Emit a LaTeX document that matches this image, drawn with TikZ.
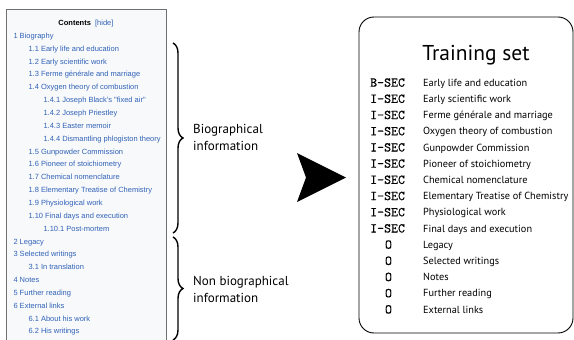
\documentclass[tikz,border=0pt]{standalone}
\usepackage{fontspec}
\usetikzlibrary{decorations.pathreplacing}
\newfontfamily\wikifont{Liberation Sans}
\newfontfamily\myrfont{PT Sans}
\newfontfamily\labmono[FakeBold=0.5]{Latin Modern Mono}
\definecolor{wikiblue}{HTML}{3062B8}
\definecolor{tocborder}{HTML}{707070}
\definecolor{tocbg}{HTML}{F8F9FA}
\tikzset{
  toc/.style={anchor=base west, inner sep=0pt, font=\wikifont\fontsize{7.5}{8}\selectfont, text=wikiblue},
  lbl/.style={anchor=base west, inner sep=0pt, font=\labmono\fontsize{13.5}{14}\selectfont},
  itm/.style={anchor=base west, inner sep=0pt, font=\myrfont\fontsize{10.3}{11}\selectfont},
  side/.style={anchor=base west, inner sep=0pt, font=\myrfont\fontsize{13}{14}\selectfont, align=left},
  bracedeco/.style={decorate, decoration={brace, amplitude=10pt}, line width=1.4pt},
}
\begin{document}
\begin{tikzpicture}[x=1pt,y=-1pt]
\useasboundingbox (0,0) rectangle (574,340);
% TOC box
\fill[tocbg] (6,9) rectangle (166,345);
\draw[tocborder, line width=0.8pt] (6,345) -- (6,9) -- (166,9) -- (166,345);
\node[anchor=base, inner sep=0pt, font=\wikifont\fontsize{7.5}{8}\selectfont] (contents) at (86,25) {\textbf{Contents}\ \ \textcolor{wikiblue}{[hide]}};
\foreach \i/\lev/\t [count=\n] in {
 0/0/1 Biography,
 1/1/1.1 Early life and education,
 2/1/1.2 Early scientific work,
 3/1/1.3 Ferme générale and marriage,
 4/1/1.4 Oxygen theory of combustion,
 5/2/1.4.1 Joseph Black's "fixed air",
 6/2/1.4.2 Joseph Priestley,
 7/2/1.4.3 Easter memoir,
 8/2/1.4.4 Dismantling phlogiston theory,
 9/1/1.5 Gunpowder Commission,
 10/1/1.6 Pioneer of stoichiometry,
 11/1/1.7 Chemical nomenclature,
 12/1/1.8 Elementary Treatise of Chemistry,
 13/1/1.9 Physiological work,
 14/1/1.10 Final days and execution,
 15/2/1.10.1 Post-mortem,
 16/0/2 Legacy,
 17/0/3 Selected writings,
 18/1/3.1 In translation,
 19/0/4 Notes,
 20/0/5 Further reading,
 21/0/6 External links,
 22/1/6.1 About his work,
 23/1/6.2 His writings}
 { \node[toc] (toc\n) at ({13.3+15*\lev},{35.7+12.85*\i+2.7}) {\t}; }
% braces
\draw[bracedeco] (173,43) -- (173,233);
\draw[bracedeco] (173,237) -- (173,340);
\node[side] (bio) at (193,133.5) {Biographical};
\node[side] (bio2) at (193,150.5) {information};
\node[side] (nonbio) at (193,285.5) {Non biographical};
\node[side] (nonbio2) at (193,302.5) {information};
% arrow
\fill (297,153) -- (346,177.5) -- (297,202) -- (306,177.5) -- cycle;
% training set box
\draw[line width=0.9pt, rounded corners=15pt] (359,17) rectangle (573,333);
\node[anchor=base, inner sep=0pt, font=\myrfont\fontsize{21.5}{22}\selectfont] (title) at (476,60) {Training set};
\foreach \i/\l/\t [count=\n] in {
 0/B-SEC/Early life and education,
 1/I-SEC/Early scientific work,
 2/I-SEC/Ferme générale and marriage,
 3/I-SEC/Oxygen theory of combustion,
 4/I-SEC/Gunpowder Commission,
 5/I-SEC/Pioneer of stoichiometry,
 6/I-SEC/Chemical nomenclature,
 7/I-SEC/Elementary Treatise of Chemistry,
 8/I-SEC/Physiological work,
 9/I-SEC/Final days and execution}
 { \node[lbl] (lab\n) at (370,{82.7+16.2*\i+4}) {\l};
   \node[itm] (item\n) at (423,{82.7+16.2*\i+3.5}) {\t}; }
\foreach \i/\t [count=\n] in {
 10/Legacy, 11/Selected writings, 12/Notes, 13/Further reading, 14/External links}
 { \node[lbl, anchor=base] (olab\n) at (388.5,{82.7+16.2*\i+4}) {O};
   \node[itm] (oitem\n) at (423,{82.7+16.2*\i+3.5}) {\t}; }
\end{tikzpicture}
\end{document}
